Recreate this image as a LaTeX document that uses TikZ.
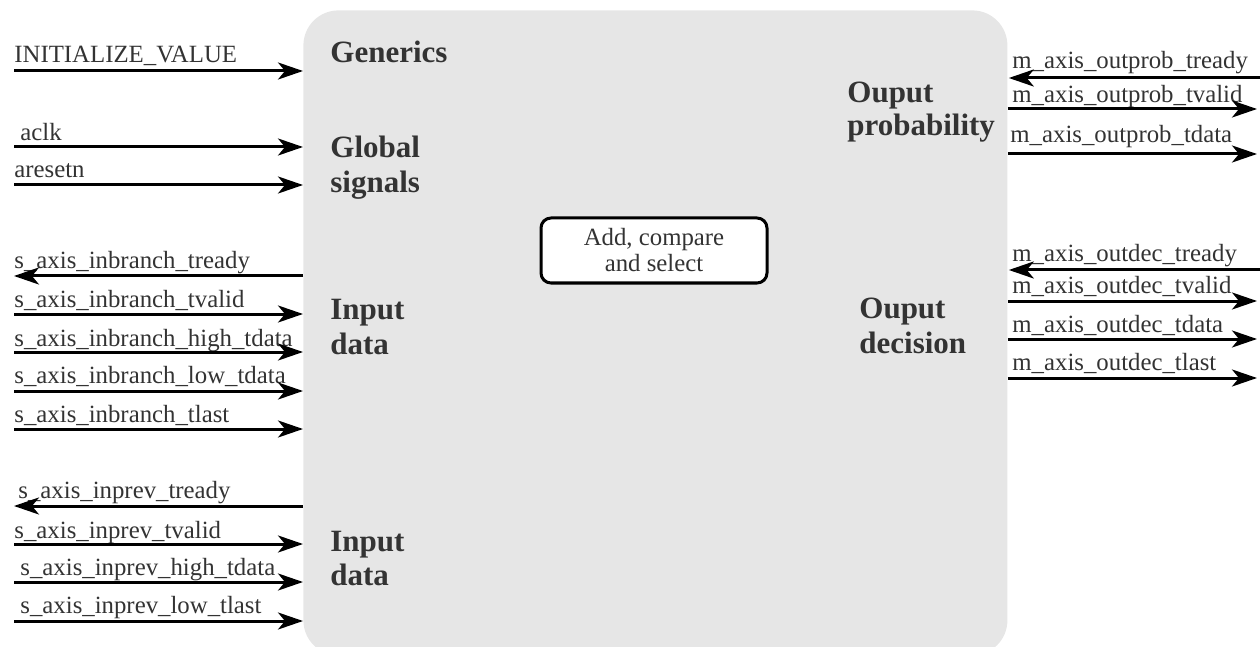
\documentclass[tikz,border=0pt]{standalone}
\usepackage{fontspec}
\setmainfont{Liberation Serif}
\usetikzlibrary{arrows.meta}
\definecolor{boxgrey}{HTML}{E6E6E6}
\definecolor{txt}{HTML}{333333}
\begin{document}
\begin{tikzpicture}[x=0.5pt,y=-0.5pt,
  sig/.style={font=\fontsize{12.4}{14}\selectfont, text=txt, anchor=base west, inner sep=0pt},
  grp/.style={font=\fontsize{15.5}{17}\selectfont\bfseries, text=txt, anchor=base west, inner sep=0pt},
  wire/.style={line width=1.5pt, -{Stealth[length=12.5pt,width=8.5pt,inset=3.5pt]}},
  core/.style={fill=boxgrey, rounded corners=17.5pt, inner sep=0pt, anchor=north west,
               minimum width=352pt, minimum height=322.5pt},
  acs/.style={draw, fill=white, line width=1.5pt, rounded corners=5pt, inner sep=0pt,
              minimum width=113pt, minimum height=32.5pt, align=center,
              font=\fontsize{12.4}{13}\selectfont, text=txt}
]
\useasboundingbox (0,0) rectangle (1260,647);
\clip (0,0) rectangle (1260,647);
\node[core] (core) at (303,10) {};
\node[acs] (acs) at (654,250.5) {Add, compare\\and select};

% group labels
\node[grp] (gen) at (330,63) {Generics};
\node[grp] (glob1) at (330,158) {Global};
\node[grp] (glob2) at (330,192) {signals};
\node[grp] (ina1) at (330,320) {Input};
\node[grp] (ina2) at (330,354) {data};
\node[grp] (inb1) at (330,551) {Input};
\node[grp] (inb2) at (330,585) {data};
\node[grp] (op1) at (847,103) {Ouput};
\node[grp] (op2) at (847,136) {probability};
\node[grp] (od1) at (859,319) {Ouput};
\node[grp] (od2) at (859,353) {decision};

% left inputs (into the block)
\foreach \nm/\y/\tx/\tb/\lab in {
  iv/71/14/63/INITIALIZE\_VALUE,
  clk/147/20/141/aclk,
  rst/185/14/178/aresetn,
  ibv/314/14/307/s\_axis\_inbranch\_tvalid,
  ibh/352/14/346/s\_axis\_inbranch\_high\_tdata,
  ibl/391/14/383/s\_axis\_inbranch\_low\_tdata,
  ibt/429/14/422/s\_axis\_inbranch\_tlast,
  ipv/544/14/538/s\_axis\_inprev\_tvalid,
  iph/582/20/575/s\_axis\_inprev\_high\_tdata,
  ipl/621/20/613/s\_axis\_inprev\_low\_tlast}{
  \node[sig] (\nm) at (\tx,\tb) {\lab};
  \coordinate (\nm-s) at (14,\y);
  \draw[wire] (\nm-s) -- (\nm-s -| core.west);
}

% left outputs (tready)
\foreach \nm/\y/\tx/\tb/\lab in {
  ibr/276/14/269/s\_axis\_inbranch\_tready,
  ipr/506/18/498/s\_axis\_inprev\_tready}{
  \node[sig] (\nm) at (\tx,\tb) {\lab};
  \coordinate (\nm-e) at (14,\y);
  \draw[wire] (\nm-e -| core.west) -- (\nm-e);
}

% right outputs
\foreach \nm/\y/\tx/\tb/\lab in {
  opv/109/1012/103/m\_axis\_outprob\_tvalid,
  opd/154/1010/143/m\_axis\_outprob\_tdata,
  odv/301/1012/293/m\_axis\_outdec\_tvalid,
  odd/339/1012/332/m\_axis\_outdec\_tdata,
  odl/378/1012/370/m\_axis\_outdec\_tlast}{
  \node[sig] (\nm) at (\tx,\tb) {\lab};
  \coordinate (\nm-e) at (1257,\y);
  \draw[wire] (\nm-e -| core.east) -- (\nm-e);
}

% right inputs (tready)
\foreach \nm/\y/\tx/\tb/\lab in {
  opr/78/1012/69/m\_axis\_outprob\_tready,
  odr/270/1012/262/m\_axis\_outdec\_tready}{
  \node[sig] (\nm) at (\tx,\tb) {\lab};
  \coordinate (\nm-s) at (1260,\y);
  \draw[wire] (\nm-s) -- ([xshift=0.5pt]\nm-s -| core.east);
}
\end{tikzpicture}
\end{document}
